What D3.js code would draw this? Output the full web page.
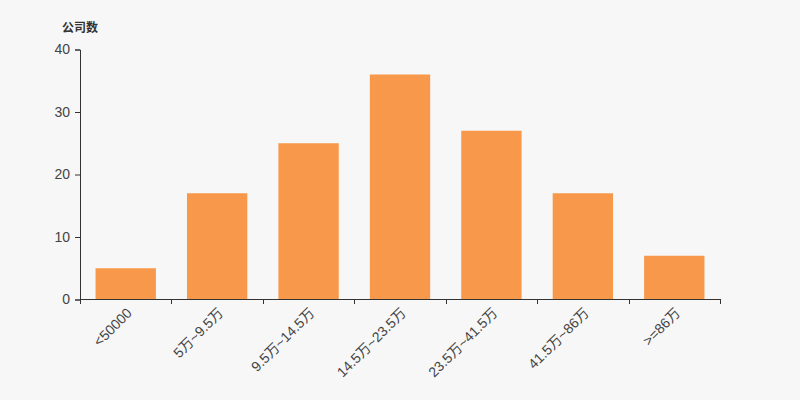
<!DOCTYPE html>
<html>
<head>
<meta charset="utf-8">
<script src="https://cdn.jsdelivr.net/npm/d3@7/dist/d3.min.js"></script>
<style>
html,body{margin:0;padding:0;background:#f7f7f7;}
svg{display:block;font-family:"Liberation Sans","Noto Sans CJK SC",Arial,sans-serif;}
</style>
</head>
<body>
<svg id="chart" width="800" height="400"></svg>
<script>
const categories = ["<50000","5万~9.5万","9.5万~14.5万","14.5万~23.5万","23.5万~41.5万","41.5万~86万",">=86万"];
const values = [5, 17, 25, 36, 27, 17, 7];
const yTicks = [0, 10, 20, 30, 40];
const yTitle = "公司数";

const svg = d3.select("#chart");
const margin = {left: 80, right: 80, top: 49.5, bottom: 100.5};
const W = 800, H = 400;

const x = d3.scaleBand().domain(categories).range([margin.left, W - margin.right]).padding(0);
const y = d3.scaleLinear().domain([0, 40]).range([H - margin.bottom, margin.top]);

svg.append("rect").attr("width", W).attr("height", H).attr("fill", "#f7f7f7");

const barW = x.bandwidth() * 0.66;
svg.append("g").selectAll("rect").data(values).join("rect")
  .attr("x", (d, i) => x(categories[i]) + (x.bandwidth() - barW) / 2)
  .attr("y", d => y(d))
  .attr("width", barW)
  .attr("height", d => y(0) - y(d))
  .attr("fill", "#f8984a");

// y axis
const yAxis = svg.append("g").attr("transform", `translate(${margin.left},0)`)
  .call(d3.axisLeft(y).tickValues(yTicks).tickSize(5).tickPadding(5));
yAxis.select(".domain").attr("stroke", "#333").attr("stroke-width", 1);
yAxis.selectAll(".tick line").attr("stroke", "#333");
yAxis.selectAll(".tick text").attr("fill", "#444").attr("font-size", 14)
  .attr("font-family", "Liberation Sans, Arial, sans-serif");

// x axis
const xTickScale = d3.scaleLinear().domain([0, categories.length]).range([margin.left, W - margin.right]);
const xg = svg.append("g").attr("transform", `translate(0,${Math.floor(y(0))})`);
xg.append("line").attr("x1", margin.left).attr("x2", W - margin.right)
  .attr("y1", 0.5).attr("y2", 0.5).attr("stroke", "#333");
xg.selectAll("line.tk").data(d3.range(categories.length + 1)).join("line")
  .attr("class", "tk")
  .attr("x1", d => Math.round(xTickScale(d)) + 0.5).attr("x2", d => Math.round(xTickScale(d)) + 0.5)
  .attr("y1", 0).attr("y2", 5).attr("stroke", "#333");
xg.selectAll("text").data(categories).join("text")
  .attr("transform", d => `translate(${x(d) + x.bandwidth() / 2 + 1},${9}) rotate(-45)`)
  .attr("text-anchor", "end")
  .attr("dy", "0.6em")
  .attr("font-size", 14)
  .attr("fill", "#444")
  .text(d => d);

// y title
svg.append("text").attr("x", 62).attr("y", 32)
  .attr("font-size", 12).attr("font-weight", "bold").attr("fill", "#333")
  .text(yTitle);
</script>
</body>
</html>
